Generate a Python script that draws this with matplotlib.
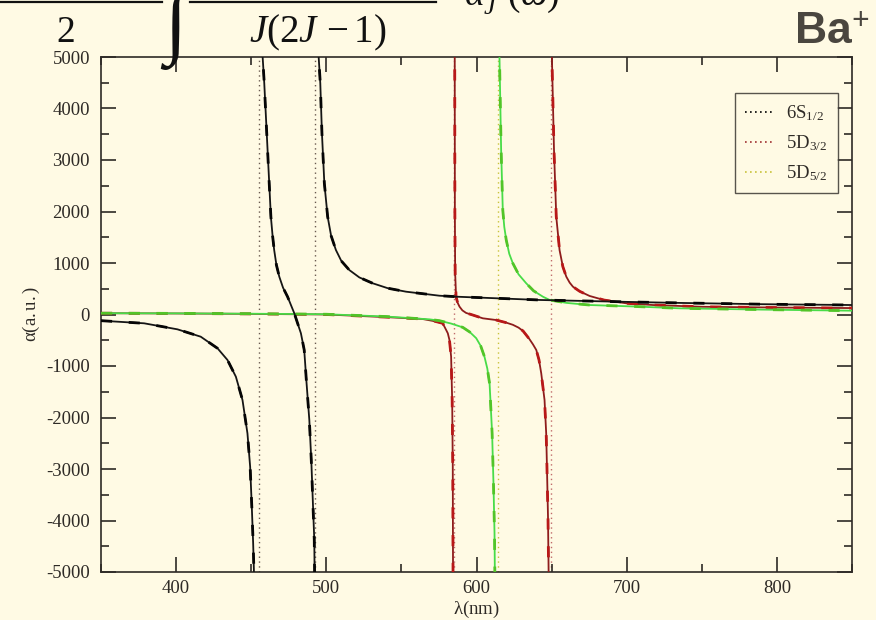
import matplotlib
matplotlib.use("Agg")
import matplotlib.pyplot as plt
from matplotlib.lines import Line2D
from matplotlib.ticker import MultipleLocator

# ---- dynamic polarizability of Ba+ levels (a.u.) vs wavelength (nm) ----
# 6S1/2 branches
s12_b1_x = [350, 378.7, 400.9, 416.4, 427.6, 434.2, 439.8, 444.2, 447.5, 449.3, 450.4, 451.3, 451.8, 452.0]
s12_b1_y = [-120, -171, -288, -431, -657, -883, -1208, -1660, -2307, -2955, -3732, -4443, -4961, -5300]
s12_b2_x = [457.4, 457.6, 458.7, 459.8, 460.9, 462.0, 463.1, 464.2, 465.3, 466.8, 468.7, 471.2, 474.2,
            478.7, 483.1, 485.3, 486.7, 488.7, 490.0, 491.0, 492.0, 492.3]
s12_b2_y = [5300, 5006, 4489, 3841, 3194, 2548, 1899, 1540, 1252, 960, 734, 520, 346,
            23, -365, -689, -1272, -2049, -2825, -3600, -4380, -5300]
s12_b3_x = [494.8, 494.9, 496.0, 497.1, 498.7, 500.9, 503.2, 506.4, 510.0, 515.3, 522.0, 530.9, 541.0,
            553.1, 575.3, 586.4, 642.0, 700.0, 735.0, 790.0, 850.0]
s12_b3_y = [5300, 5006, 4489, 3518, 2548, 1899, 1530, 1252, 1040, 864, 720, 606, 510,
            443, 365, 346, 282, 245, 225, 200, 184]

# 5D3/2 branches
d32_b1_x = [350, 400, 450, 500, 542, 564, 572, 577.5, 579.8, 580.9, 582.0, 583.1, 583.8, 584.2, 584.4]
d32_b1_y = [25, 20, 12, 0, -54, -87, -130, -171, -301, -365, -495, -819, -1660, -2955, -5300]
d32_b2_x = [585.5, 585.6, 585.8, 586.4, 587.4, 588.7, 590.6, 593.1, 597.5, 604.2, 613.0, 620.0, 624.2,
            628.0, 631.0, 633.1, 635.3, 637.6, 639.8, 641.6, 643.1, 645.3, 646.4, 646.9, 647.6, 648.0, 648.1]
d32_b2_y = [5300, 2000, 800, 346, 230, 152, 80, 30, -10, -74, -107, -160, -200,
            -255, -320, -398, -480, -580, -689, -880, -1142, -1660, -2307, -2955, -3926, -4961, -5300]
d32_b3_x = [650.1, 650.2, 651.6, 653.1, 655.3, 657.5, 659.8, 662.0, 664.2, 668.7, 675.3, 685.0, 699.8,
            717.5, 750, 800, 850]
d32_b3_y = [5300, 5006, 3194, 1899, 1250, 928, 734, 620, 540, 450, 360, 280, 217,
            184, 150, 135, 125]

# 5D5/2 branches
d52_b1_x = [350, 400, 450, 500, 540, 568.7, 575.3, 583.0, 590.9, 595.5, 599.8, 602.8, 605.3, 607.2,
            608.7, 610.4, 611.3, 612.0, 612.2, 612.3]
d52_b1_y = [25, 22, 15, 5, -40, -94, -120, -175, -250, -340, -460, -610, -819, -1050,
            -1337, -2307, -3278, -4249, -4961, -5300]
d52_b2_x = [615.2, 615.3, 616.4, 617.5, 618.5, 619.8, 621.8, 624.2, 628.0, 633.1, 638.0, 644.2, 648.7,
            660.0, 675.3, 708.7, 735.3, 790, 850]
d52_b2_y = [5300, 5006, 3194, 2029, 1700, 1447, 1180, 994, 780, 606, 460, 346, 282,
            225, 184, 152, 120, 95, 74]

# resonance wavelengths (nm)
res_6s = [454.9, 492.8]
res_5d32 = [584.9, 649.6]
res_5d52 = [614.2]

legend_labels = [r"6S$_{\mathregular{1/2}}$", r"5D$_{\mathregular{3/2}}$", r"5D$_{\mathregular{5/2}}$"]

BG = "#fffae4"
INK = "#2e2a26"

plt.rcParams.update({
    "font.family": ["Liberation Serif", "DejaVu Serif"],
    "mathtext.fontset": "custom",
    "mathtext.rm": "Liberation Serif",
    "mathtext.it": "Liberation Serif:italic",
    "mathtext.bf": "Liberation Serif:bold",
    "axes.unicode_minus": False,
})

fig = plt.figure(figsize=(8.76, 6.20), dpi=100, facecolor=BG)
ax = fig.add_axes([101 / 876, 48 / 620, 751 / 876, 515 / 620])
ax.set_facecolor(BG)

styles = {
    "s12": dict(solid="#151515", dash="#050505"),
    "d32": dict(solid="#8e1c1c", dash="#b81818"),
    "d52": dict(solid="#48dc48", dash="#52c428"),
}


def draw(xs, ys, key, z):
    st = styles[key]
    ax.plot(xs, ys, color=st["solid"], lw=1.3, zorder=z, solid_joinstyle="round")
    ax.plot(xs, ys, color=st["dash"], lw=2.0, dashes=(4, 6), zorder=z + 0.1)


# resonance markers
for r in res_6s:
    ax.axvline(r, color="#6a5a50", lw=1.0, ls=(0, (1, 2.5)), zorder=1)
for r in res_5d32:
    ax.axvline(r, color="#c06a6a", lw=1.0, ls=(0, (1, 2.5)), zorder=1)
for r in res_5d52:
    ax.axvline(r, color="#c8c23a", lw=1.0, ls=(0, (1, 2.5)), zorder=1)

draw(d32_b1_x, d32_b1_y, "d32", 3)
draw(d32_b2_x, d32_b2_y, "d32", 3)
draw(d32_b3_x, d32_b3_y, "d32", 3)
draw(d52_b1_x, d52_b1_y, "d52", 4)
draw(d52_b2_x, d52_b2_y, "d52", 4)
draw(s12_b1_x, s12_b1_y, "s12", 5)
draw(s12_b2_x, s12_b2_y, "s12", 5)
draw(s12_b3_x, s12_b3_y, "s12", 5)

ax.set_xlim(350, 850)
ax.set_ylim(-5000, 5000)
ax.xaxis.set_major_locator(MultipleLocator(100))
ax.xaxis.set_minor_locator(MultipleLocator(50))
ax.yaxis.set_major_locator(MultipleLocator(1000))
ax.yaxis.set_minor_locator(MultipleLocator(500))
ax.tick_params(which="both", direction="in", top=True, right=True, color=INK,
               labelcolor=INK, labelsize=13.5, width=1.2)
ax.tick_params(which="major", length=10.5)
ax.tick_params(which="minor", length=5.5)
ax.tick_params(axis="y", pad=8)
ax.tick_params(axis="x", pad=6)
for sp in ax.spines.values():
    sp.set_color(INK)
    sp.set_linewidth(1.2)

ax.set_xlabel(r"$\mathregular{\lambda(nm)}$", fontsize=13.5, color=INK, labelpad=1)
ax.set_ylabel(r"$\mathregular{\alpha(a.u.)}$", fontsize=13.5, color=INK, labelpad=3)

handles = [
    Line2D([], [], color="#000000", lw=1.2, ls=(0, (1, 2))),
    Line2D([], [], color="#a03030", lw=1.2, ls=(0, (1, 2))),
    Line2D([], [], color="#c8c23a", lw=1.2, ls=(0, (1, 2))),
]
leg = ax.legend(handles, legend_labels, loc="upper right", bbox_to_anchor=(0.981, 0.93),
                borderaxespad=0, fontsize=13.5, frameon=True, fancybox=False, handlelength=1.5,
                labelspacing=0.55, borderpad=0.55, handletextpad=0.7)
leg.get_frame().set_edgecolor(INK)
leg.get_frame().set_linewidth(1.0)
leg.get_frame().set_facecolor(BG)
for t in leg.get_texts():
    t.set_color(INK)

# slide header: fragment of the tensor-polarizability formula and the ion label
fig.add_artist(Line2D([0, 162 / 876], [1 - 2 / 620, 1 - 2 / 620], color="#111111", lw=1.6))
fig.add_artist(Line2D([190 / 876, 436 / 876], [1 - 2 / 620, 1 - 2 / 620], color="#111111", lw=1.6))
fig.text(65 / 876, 1 - 33 / 620, r"$2$", fontsize=27, ha="center", va="center", color="#111111")
fig.text(318 / 876, 1 - 33 / 620, r"$J(2J\,-1)$", fontsize=28, ha="center", va="center", color="#111111")
fig.text(176 / 876, 1 - 30 / 620, r"$\int$", fontsize=58, ha="center", va="center", color="#111111")
fig.text(512 / 876, 1 + 4 / 620, r"$\alpha_J^{\ \ }\ (\omega)$", fontsize=27, ha="center", va="center",
         color="#111111")
fig.text(869 / 876, 1 - 32 / 620, r"Ba$^{\mathbf{+}}$", fontsize=32, fontweight="bold", ha="right",
         va="center", color="#4a463f", family=["Liberation Sans", "DejaVu Sans"])

fig.savefig("out.png", dpi=100, facecolor=BG)
